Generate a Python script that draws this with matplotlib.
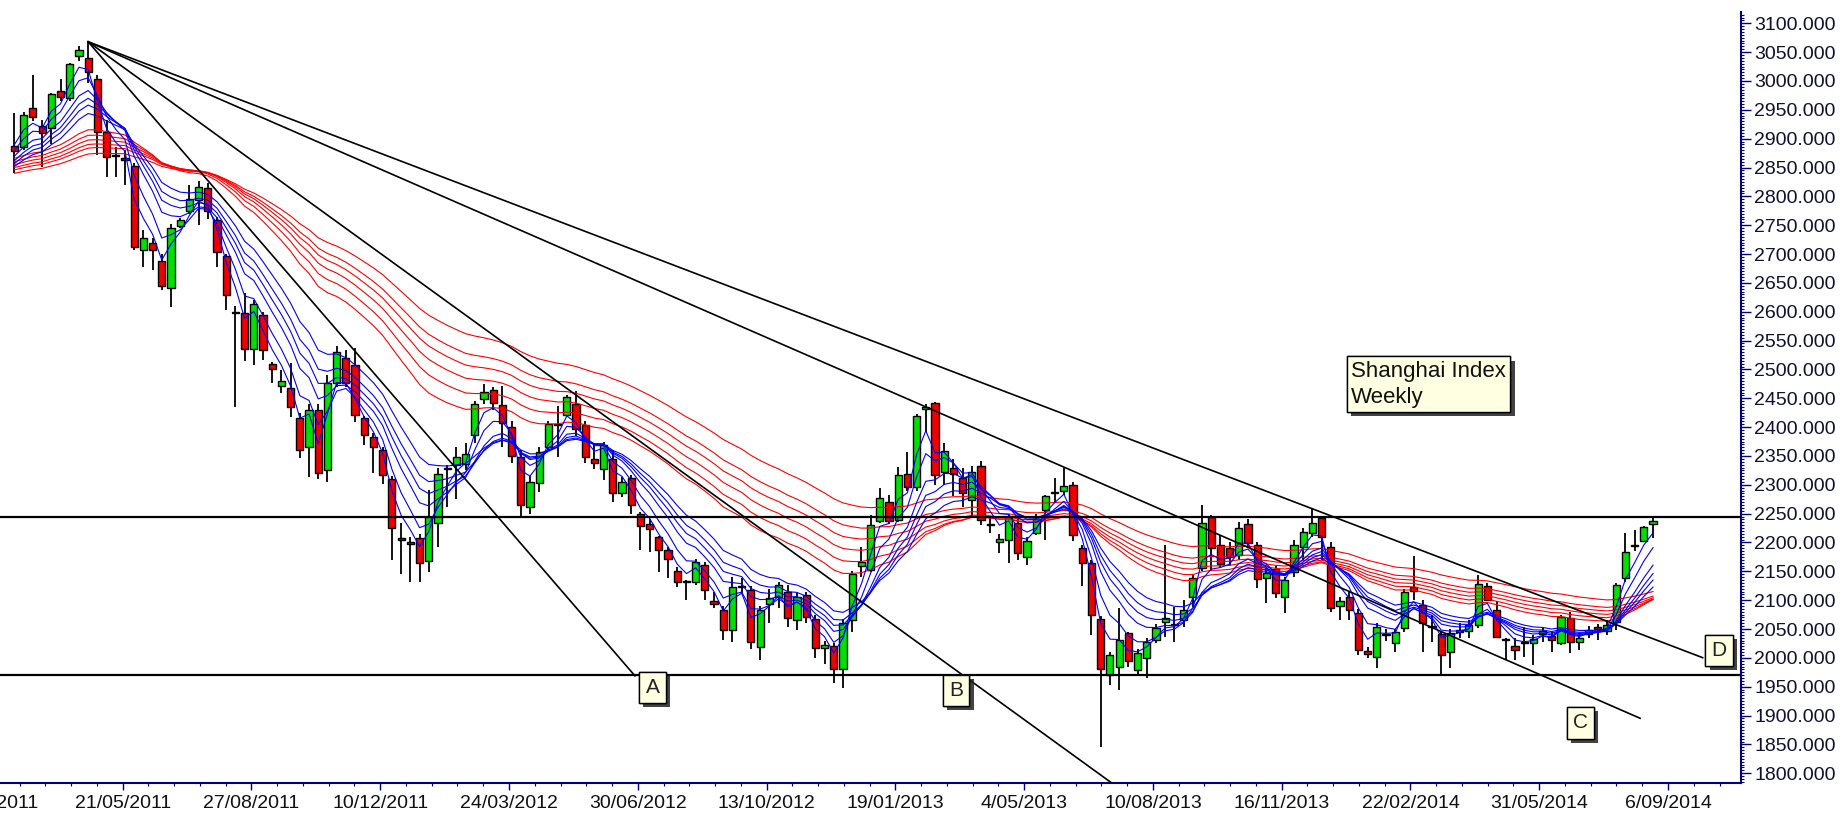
import numpy as np
import matplotlib
matplotlib.use("Agg")
import matplotlib.pyplot as plt
import matplotlib.patheffects as pe
from matplotlib.ticker import MultipleLocator, FormatStrFormatter

plt.rcParams['font.family'] = ['Liberation Sans', 'DejaVu Sans']

# weekly bars (open, high, low, close)
opens = [2888, 2886, 2953, 2922, 2918, 2983, 2970, 3043, 3039, 3003,
         2912, 2872, 2866, 2853, 2707, 2720, 2688, 2641, 2749, 2775,
         2794, 2814, 2759, 2697, 2600, 2597, 2535, 2594, 2509, 2472,
         2467, 2415, 2366, 2430, 2326, 2476, 2519, 2508, 2415, 2383,
         2360, 2310, 2207, 2198, 2208, 2168, 2233, 2328, 2334, 2336,
         2386, 2448, 2464, 2438, 2401, 2349, 2262, 2304, 2365, 2404,
         2421, 2440, 2404, 2344, 2328, 2345, 2285, 2311, 2250, 2232,
         2209, 2187, 2151, 2131, 2132, 2161, 2099, 2083, 2048, 2125,
         2118, 2019, 2093, 2106, 2115, 2066, 2109, 2068, 2017, 2021,
         1980, 2066, 2160, 2152, 2238, 2271, 2239, 2318, 2297, 2432,
         2442, 2323, 2330, 2311, 2274, 2332, 2232, 2201, 2204, 2233,
         2175, 2216, 2256, 2285, 2290, 2300, 2190, 2164, 2067, 1970,
         1985, 2043, 1979, 1999, 2031, 2063, 2057, 2066, 2106, 2155,
         2244, 2195, 2190, 2178, 2232, 2196, 2139, 2154, 2106, 2148,
         2193, 2216, 2242, 2193, 2090, 2106, 2077, 2012, 2002, 2040,
         2025, 2051, 2122, 2092, 2056, 2041, 2011, 2045, 2046, 2057,
         2125, 2083, 2031, 2021, 2027, 2026, 2042, 2038, 2025, 2069,
         2028, 2042, 2054, 2047, 2063, 2139, 2194, 2203, 2232]
highs = [2944, 2946, 3010, 2932, 2980, 3004, 3032, 3060, 3068, 3010,
         2932, 2886, 2880, 2858, 2742, 2728, 2700, 2752, 2762, 2820,
         2826, 2824, 2765, 2700, 2610, 2632, 2620, 2600, 2513, 2499,
         2511, 2425, 2440, 2440, 2490, 2540, 2533, 2537, 2420, 2390,
         2365, 2315, 2233, 2210, 2215, 2291, 2330, 2335, 2366, 2372,
         2445, 2475, 2470, 2471, 2410, 2360, 2315, 2366, 2410, 2436,
         2455, 2462, 2410, 2372, 2375, 2360, 2313, 2317, 2253, 2240,
         2212, 2192, 2158, 2135, 2172, 2166, 2115, 2090, 2140, 2138,
         2125, 2090, 2120, 2132, 2126, 2112, 2115, 2074, 2030, 2025,
         2067, 2150, 2192, 2248, 2294, 2283, 2331, 2357, 2422, 2440,
         2444, 2372, 2345, 2330, 2332, 2342, 2245, 2215, 2250, 2245,
         2210, 2250, 2283, 2311, 2329, 2305, 2195, 2170, 2072, 2010,
         2086, 2045, 2015, 2035, 2058, 2196, 2088, 2100, 2145, 2265,
         2247, 2213, 2200, 2235, 2240, 2200, 2155, 2160, 2140, 2205,
         2225, 2259, 2245, 2200, 2105, 2115, 2085, 2018, 2060, 2050,
         2050, 2120, 2176, 2100, 2075, 2045, 2050, 2060, 2065, 2144,
         2130, 2098, 2035, 2034, 2054, 2040, 2054, 2044, 2075, 2080,
         2040, 2055, 2058, 2065, 2130, 2216, 2222, 2228, 2243]
lows = [2840, 2880, 2930, 2851, 2890, 2965, 2965, 3035, 2996, 2871,
        2834, 2834, 2820, 2707, 2678, 2672, 2638, 2609, 2745, 2770,
        2750, 2760, 2678, 2603, 2435, 2514, 2508, 2516, 2476, 2459,
        2418, 2346, 2314, 2310, 2305, 2470, 2470, 2409, 2369, 2320,
        2302, 2170, 2146, 2132, 2132, 2149, 2193, 2262, 2276, 2326,
        2372, 2440, 2430, 2366, 2337, 2242, 2250, 2288, 2360, 2349,
        2418, 2385, 2337, 2328, 2308, 2271, 2279, 2250, 2187, 2184,
        2149, 2138, 2123, 2100, 2126, 2100, 2086, 2031, 2028, 2112,
        2016, 1996, 2060, 2086, 2054, 2048, 2060, 1999, 1990, 1956,
        1947, 2045, 2141, 2149, 2233, 2232, 2235, 2290, 2290, 2392,
        2300, 2300, 2280, 2262, 2243, 2230, 2216, 2181, 2164, 2170,
        2161, 2213, 2204, 2270, 2282, 2202, 2124, 2040, 1846, 1953,
        1944, 1985, 1970, 1965, 2025, 2037, 2028, 2054, 2088, 2150,
        2152, 2155, 2160, 2170, 2190, 2121, 2095, 2103, 2077, 2141,
        2170, 2210, 2170, 2080, 2066, 2066, 2005, 1999, 1982, 2030,
        2011, 2045, 2100, 2011, 2028, 1970, 1982, 2035, 2035, 2051,
        2098, 2034, 1996, 1996, 2002, 1988, 2028, 2011, 2022, 2008,
        2014, 2035, 2031, 2040, 2048, 2132, 2185, 2200, 2207]
closes = [2878, 2941, 2938, 2910, 2977, 2973, 3029, 3053, 3016, 2912,
          2869, 2870, 2863, 2713, 2728, 2707, 2645, 2745, 2759, 2796,
          2817, 2775, 2703, 2629, 2598, 2535, 2613, 2534, 2501, 2480,
          2435, 2360, 2430, 2320, 2476, 2531, 2476, 2421, 2386, 2366,
          2317, 2225, 2205, 2197, 2164, 2244, 2319, 2327, 2349, 2353,
          2440, 2461, 2442, 2407, 2350, 2265, 2305, 2357, 2405, 2403,
          2452, 2396, 2349, 2338, 2369, 2285, 2305, 2265, 2229, 2224,
          2187, 2171, 2132, 2130, 2166, 2117, 2093, 2048, 2123, 2122,
          2028, 2083, 2103, 2126, 2069, 2106, 2071, 2017, 2023, 1980,
          2060, 2146, 2166, 2230, 2277, 2238, 2317, 2297, 2419, 2435,
          2317, 2358, 2319, 2285, 2323, 2239, 2230, 2206, 2245, 2181,
          2202, 2240, 2280, 2287, 2298, 2213, 2164, 2074, 1980, 2005,
          2031, 1994, 2008, 2028, 2051, 2069, 2056, 2083, 2138, 2234,
          2190, 2162, 2175, 2225, 2199, 2136, 2147, 2112, 2135, 2196,
          2219, 2234, 2210, 2086, 2098, 2083, 2014, 2006, 2054, 2042,
          2044, 2115, 2116, 2060, 2054, 2005, 2043, 2048, 2057, 2128,
          2100, 2037, 2030, 2014, 2025, 2032, 2046, 2031, 2070, 2028,
          2034, 2048, 2050, 2057, 2126, 2183, 2194, 2226, 2238]

# guppy averages, with the starting level each line has at the left edge
short_spans = [3, 5, 8, 10, 12, 15]
short_seed = [2890, 2880, 2870, 2862, 2857, 2852]
long_spans = [30, 35, 40, 45, 50, 60]
long_seed = [2866, 2860, 2855, 2850, 2846, 2840]

# trendlines from the April 2011 top (bar, level)
peak = (8, 3068)
trend_ends = [(67.4, 1968.9), (119.2, 1783.1), (176.6, 1895.3), (183.4, 2000.3)]
h_levels = [2245, 1970]

# marker boxes
marks = ['A', 'B', 'C', 'D']
mark_pos = [(69.3, 1948.7), (102.3, 1943.5), (170.1, 1887.2), (185.2, 2012.8)]

date_labels = ['12/02/2011', '21/05/2011', '27/08/2011', '10/12/2011', '24/03/2012',
               '30/06/2012', '13/10/2012', '19/01/2013', '4/05/2013', '10/08/2013',
               '16/11/2013', '22/02/2014', '31/05/2014', '6/09/2014']


def ema(vals, span, seed):
    a = 2.0 / (span + 1)
    out = [seed]
    for v in vals[1:]:
        out.append(out[-1] + a * (v - out[-1]))
    return np.array(out)


o = np.array(opens, float)
h = np.array(highs, float)
l = np.array(lows, float)
c = np.array(closes, float)
x = np.arange(len(c))

W, H = 1847, 817
fig = plt.figure(figsize=(W / 100, H / 100), dpi=100)
ax = fig.add_axes([0, (H - 783) / H, 1741 / W, (783 - 12) / H])

navy = '#000080'
up = c >= o
# wicks
ax.vlines(x, l, h, color='black', lw=1.3, zorder=2)
# bodies (dojis get a minimal height so they show as a dash)
body = np.where(np.abs(c - o) < 2, 2, c - o)
ax.bar(x, body, bottom=o, width=0.78,
       color=np.where(up, '#00e000', '#ee0000'), edgecolor='black',
       linewidth=1.0, zorder=3)

for sp, sd in zip(long_spans, long_seed):
    ax.plot(x, ema(c, sp, sd), color='#ff0000', lw=0.8, zorder=4)
for sp, sd in zip(short_spans, short_seed):
    ax.plot(x, ema(c, sp, sd), color='#0000ff', lw=0.8, zorder=5)

for xe, ye in trend_ends:
    ax.plot([peak[0], xe], [peak[1], ye], color='black', lw=1.2, zorder=6)
for lev in h_levels:
    ax.axhline(lev, color='black', lw=1.6, zorder=6)

shadow = [pe.withSimplePatchShadow(offset=(3, -3), shadow_rgbFace='#222222', alpha=0.85),
          pe.Normal()]
for m, (mx, my) in zip(marks, mark_pos):
    t = ax.text(mx, my, m, fontsize=15, ha='center', va='center', zorder=8,
                color='#222222',
                bbox=dict(boxstyle='square,pad=0.3', fc='#ffffe1', ec='black', lw=1))
    t.get_bbox_patch().set_path_effects(shadow)

t = ax.text(145.2, 2515, 'Shanghai Index\nWeekly', fontsize=16, ha='left', va='top',
            linespacing=1.3, zorder=8, color='#111111',
            bbox=dict(boxstyle='square,pad=0.2', fc='#ffffe1', ec='black', lw=1))
t.get_bbox_patch().set_path_effects(shadow)

for s in ['left', 'top']:
    ax.spines[s].set_visible(False)
for s in ['right', 'bottom']:
    ax.spines[s].set_color(navy)
    ax.spines[s].set_linewidth(1.5)

ax.yaxis.tick_right()
ax.yaxis.set_major_locator(MultipleLocator(50))
ax.yaxis.set_minor_locator(MultipleLocator(5))
ax.yaxis.set_major_formatter(FormatStrFormatter('%.3f'))
ax.tick_params(axis='y', which='major', length=7, width=1, color=navy, pad=2.5,
               labelsize=14, labelcolor='#101030')
ax.tick_params(axis='y', which='minor', length=2, width=0.8, color=navy)

step = 13.99
tick_pos = [11.75 + step * (k - 1) for k in range(len(date_labels))]
ax.set_xticks(tick_pos[1:])
ax.set_xticklabels(date_labels[1:])
ax.set_xticks([p + step * j / 5 for p in tick_pos for j in range(1, 5)], minor=True)
ax.tick_params(axis='x', which='major', length=5, width=1, color=navy, pad=3.5,
               labelsize=14, labelcolor='#101010')
ax.tick_params(axis='x', which='minor', length=2.5, width=0.8, color=navy)

# limits last, so the tick lists do not widen them
ax.set_xlim(-1.575, 187.56)
ax.set_ylim(1783.1, 3119.6)

# first date label sits mostly off the left edge, as in the original
ax.annotate(date_labels[0], xy=(tick_pos[0] - 0.3, 0), xycoords=('data', 'axes fraction'),
            xytext=(0, -8.5), textcoords='offset points', ha='center', va='top',
            fontsize=14, color='#101010', annotation_clip=False)

fig.savefig('out.png', dpi=100, facecolor='white')
